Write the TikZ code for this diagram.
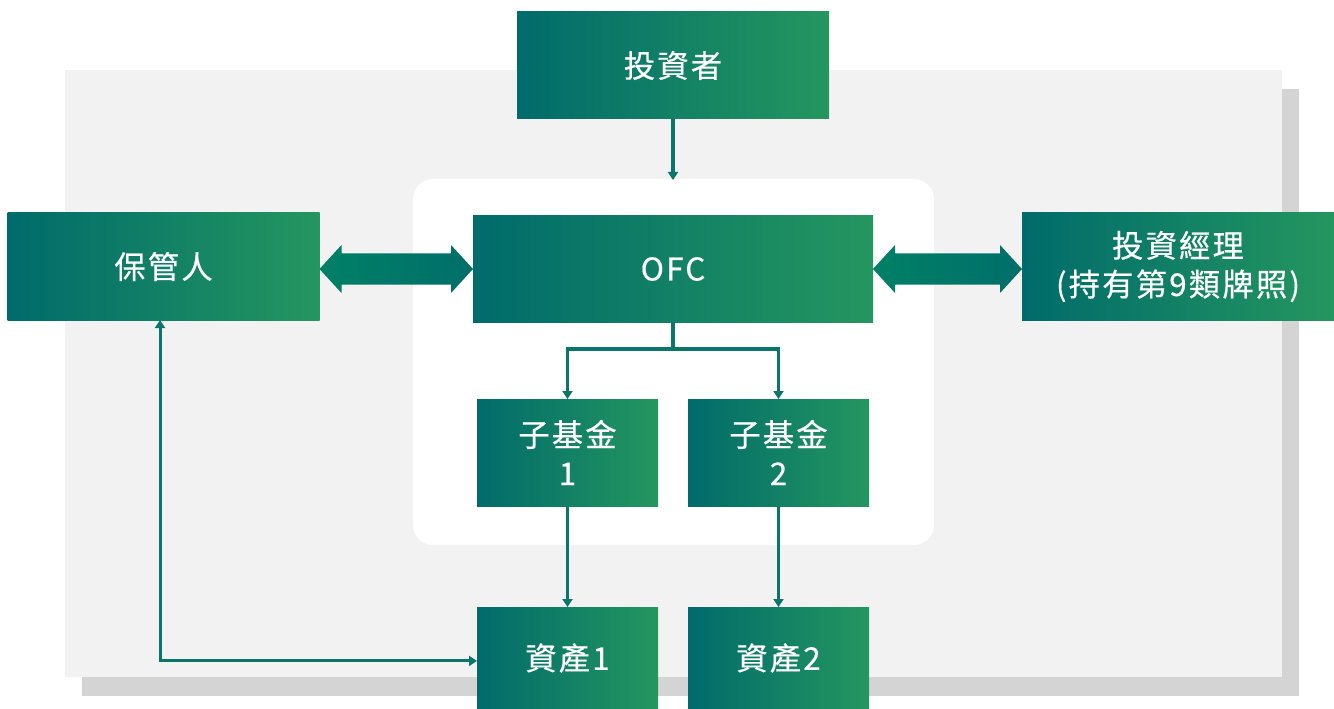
\documentclass[tikz,border=0pt]{standalone}
\usepackage{fontspec}
\setmainfont{Noto Sans CJK TC}
\usetikzlibrary{arrows.meta,calc}
\definecolor{gdark}{HTML}{006B6B}
\definecolor{glight}{HTML}{24965F}
\definecolor{conncol}{HTML}{0A766B}
\definecolor{panel}{HTML}{F2F2F2}
\definecolor{shadowc}{HTML}{D4D4D4}
\definecolor{arrL}{HTML}{008066}
\definecolor{arrR}{HTML}{006E6A}
\tikzset{
  box/.style={left color=gdark, right color=glight, draw=none, text=white,
    inner sep=0pt, outer sep=0pt, align=center,
    font=\fontsize{23.5pt}{29pt}\selectfont\addfontfeature{LetterSpace=7,FakeBold=0.5}},
  wide/.style={minimum width=234pt, minimum height=80.25pt},
  small/.style={minimum width=135.75pt, minimum height=80.25pt},
  conn/.style={draw=conncol, line width=2.3pt, -{Triangle[width=7.5pt,length=6pt]}},
  dbl/.style={left color=arrL, right color=arrR, draw=none}
}
\newcommand{\dblarrow}[2]{%
  \shade[dbl] (#1) -- ($(#1)+(22,-24)$) -- ($(#1)+(22,-15.5)$) -- ($(#2)+(-22,-15.5)$)
    -- ($(#2)+(-22,-24)$) -- (#2) -- ($(#2)+(-22,24)$) -- ($(#2)+(-22,15.5)$)
    -- ($(#1)+(22,15.5)$) -- ($(#1)+(22,24)$) -- cycle;}
\begin{document}
\begin{tikzpicture}[x=0.75pt,y=-0.75pt]
\useasboundingbox (0,0) rectangle (1334,709);
% background panel with shadow
\fill[shadowc] (82,89) rectangle (1299,696);
\fill[panel] (65,70) rectangle (1282,677);
\fill[white, rounded corners=15pt] (413,179) rectangle (934,545);
% nodes
\node[box, wide] (inv) at (673,65.5) {投資者};
\node[box, wide] (cust) at (163.5,266.5) {保管人};
\node[box, minimum width=300pt, minimum height=79.5pt] (ofc) at (673,269) {OFC};
\node[box, wide] (mgr) at (1178,266.5) {投資經理\\(持有第9類牌照)};
\node[box, small] (sf1) at (567.5,452.5) {子基金\\1};
\node[box, small] (sf2) at (778.5,452.5) {子基金\\2};
\node[box, minimum width=135.75pt, minimum height=76.5pt] (a1) at (567.5,658) {資產1};
\node[box, minimum width=135.75pt, minimum height=76.5pt] (a2) at (778.5,658) {資產2};
% connectors
\coordinate (ofcin) at (673,180);
\draw[conn] (inv.south) -- (ofcin);
\draw[conn] (ofc.south) -- ++(0,27) coordinate (br) -| (sf1.north);
\draw[conn] (br) -| (sf2.north);
\draw[conn] (sf1.south) -- (a1.north);
\draw[conn] (sf2.south) -- (a2.north);
\draw[conn, {Triangle[width=7.5pt,length=6pt]}-{Triangle[width=7.5pt,length=6pt]}] ([xshift=-2.6pt]cust.south) |- ([yshift=-2.2pt]a1.west);
% double arrows
\coordinate (l1) at (cust.east |- ofc.west);
\coordinate (r1) at (mgr.west |- ofc.east);
\dblarrow{l1}{ofc.west}
\dblarrow{ofc.east}{r1}
\end{tikzpicture}
\end{document}
